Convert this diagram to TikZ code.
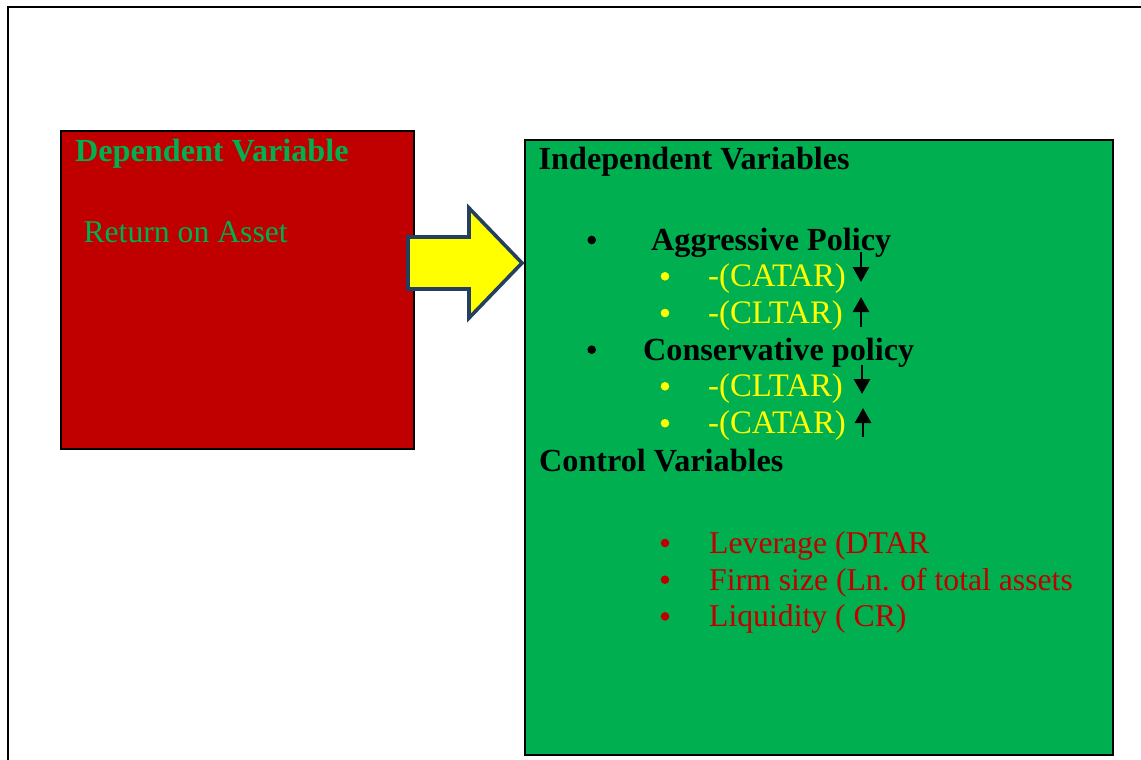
\documentclass[tikz,border=0pt]{standalone}
\usepackage{fontspec}
\setmainfont{Liberation Serif}
\usetikzlibrary{arrows.meta}
\definecolor{boxred}{HTML}{C00000}
\definecolor{boxgreen}{HTML}{00B050}
\definecolor{arrowedge}{HTML}{243F60}
\definecolor{hiyellow}{HTML}{FFFF00}
\begin{document}
\begin{tikzpicture}[x=1pt,y=-1pt,
  txt/.style={anchor=base west, inner sep=0pt, font=\fontsize{31.7}{36}\selectfont},
  ratio/.style={txt, font=\fontsize{32.8}{36}\selectfont},
  head/.style={txt, font=\fontsize{32.2}{36}\selectfont\bfseries},
  panel/.style={draw=black, line width=2.2pt, anchor=north west, inner sep=0pt},
  dot/.style={circle, inner sep=0pt, minimum size=8.6pt},
  trend/.style={line width=2.7pt, -{Triangle[length=15pt,width=16pt]}}]
\useasboundingbox (0,0) rectangle (1141,760);

% page frame, running off the right and bottom edges
\begin{scope}
  \clip (0,0) rectangle (1141,760);
  \draw[line width=2pt] (8,7) rectangle (1200,820);
\end{scope}

% dependent variable panel
\node[panel, fill=boxred, minimum width=353pt, minimum height=318pt] (dep) at (60,130) {};
\node[head, text=boxgreen] (deptitle) at (75,161.7) {Dependent Variable};
\node[txt, text=boxgreen] (roa) at (83.3,242.3) {Return on Asset};

% independent / control variables panel
\node[panel, fill=boxgreen, minimum width=588pt, minimum height=615pt] (ind) at (524,139) {};

% block arrow between the panels
\draw[line width=3.6pt, draw=arrowedge, fill=hiyellow, line join=miter]
  (408,237) -- (469,237) -- (469,208) -- (522,263) -- (469,318)
  -- (469,289) -- (408,289) -- cycle;

\node[head] (indtitle) at (538.5,169.5) {Independent Variables};

\node[dot, fill=black] (b1) at (591.7,240) {};
\node[head] (aggr) at (651,250.3) {Aggressive Policy};
\node[dot, fill=hiyellow] (b11) at (665,276.3) {};
\node[ratio, text=hiyellow] (a1) at (708,286.8) {-(CATAR)};
\node[dot, fill=hiyellow] (b12) at (665,313) {};
\node[ratio, text=hiyellow] (a2) at (708,323.4) {-(CLTAR)};

\node[dot, fill=black] (b2) at (591.7,349.7) {};
\node[head] (cons) at (643,360) {Conservative policy};
\node[dot, fill=hiyellow] (b21) at (665,386.3) {};
\node[ratio, text=hiyellow] (c1) at (708,396.8) {-(CLTAR)};
\node[dot, fill=hiyellow] (b22) at (665,423.2) {};
\node[ratio, text=hiyellow] (c2) at (708,433.6) {-(CATAR)};

% direction marks beside the ratios
\coordinate (d1s) at (861,252);  \coordinate (d1e) at (861,282);
\coordinate (u1s) at (861,327);  \coordinate (u1e) at (861,297);
\coordinate (d2s) at (862,365);  \coordinate (d2e) at (862,394);
\coordinate (u2s) at (863,437);  \coordinate (u2e) at (863,408);
\draw[trend] (d1s) -- (d1e);
\draw[trend] (u1s) -- (u1e);
\draw[trend] (d2s) -- (d2e);
\draw[trend] (u2s) -- (u2e);

\node[head] (ctrltitle) at (539,471.7) {Control Variables};
\node[dot, fill=boxred] (r1) at (665,543) {};
\node[txt, text=boxred] (lev) at (709,553.3) {Leverage (DTAR};
\node[dot, fill=boxred] (r2) at (665,579.7) {};
\node[txt, text=boxred] (size) at (709,590) {Firm size (Ln. of total assets};
\node[dot, fill=boxred] (r3) at (665,616.4) {};
\node[txt, text=boxred] (liq) at (709,626.7) {Liquidity ( CR)};
\end{tikzpicture}
\end{document}
